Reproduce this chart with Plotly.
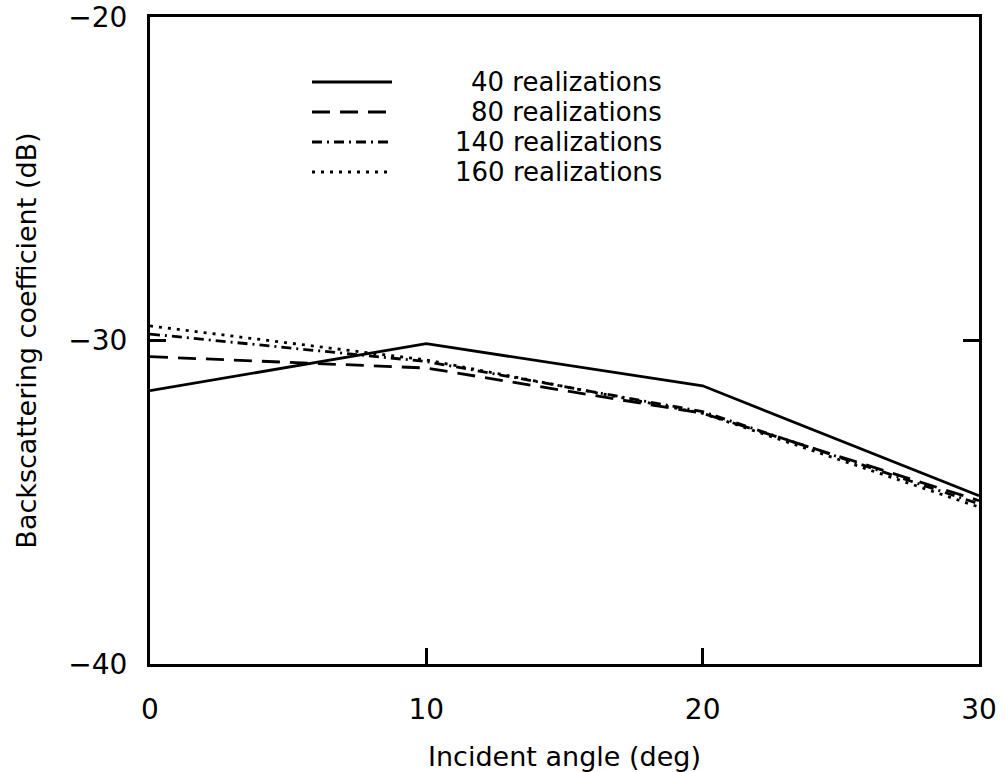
import plotly.graph_objects as go

# Backscattering coefficient vs incident angle for different numbers of realizations
angles = [0, 10, 20, 30]
r40 = [-31.55, -30.1, -31.4, -34.8]
r80 = [-30.5, -30.85, -32.25, -34.95]
r140 = [-29.8, -30.65, -32.2, -35.05]
r160 = [-29.55, -30.6, -32.25, -35.15]

series_names = ["40 realizations", "80 realizations", "140 realizations", "160 realizations"]
series_vals = [r40, r80, r140, r160]
dashes = ["solid", "18px,10px", "10px,5px,2px,5px", "3px,6px"]

x_ticks = [0, 10, 20, 30]
y_ticks = [-40, -30, -20]

FONT = "DejaVu Sans"
W, H = 1005, 772
L, R, T, B = 150, 26, 17, 108

fig = go.Figure()
for name, vals, dash in zip(series_names, series_vals, dashes):
    fig.add_trace(go.Scatter(
        x=angles, y=vals, mode="lines", name=name,
        line=dict(color="black", width=2.8, dash=dash),
        showlegend=False,
    ))

# hand-placed legend block inside the axes
pw, ph = W - L - R, H - T - B
def px_to_paper(px, py):
    return (px - L) / pw, (H - B - py) / ph

rows_y = [82, 112, 142, 172]
shapes = []
annotations = []
for name, dash, py in zip(series_names, dashes, rows_y):
    x0, y0 = px_to_paper(312, py)
    x1, _ = px_to_paper(392, py)
    shapes.append(dict(type="line", xref="paper", yref="paper",
                       x0=x0, x1=x1, y0=y0, y1=y0,
                       line=dict(color="black", width=2.8, dash=dash)))
    tx, ty = px_to_paper(664, py)
    annotations.append(dict(xref="paper", yref="paper", x=tx, y=ty,
                            text=name, showarrow=False, xanchor="right",
                            yanchor="middle",
                            font=dict(family=FONT, size=26, color="black")))

axis_common = dict(
    showgrid=False, zeroline=False, showline=True, linecolor="black",
    linewidth=3, ticks="inside", ticklen=16, tickwidth=2.5, automargin=False,
    tickcolor="black", tickfont=dict(family=FONT, size=28, color="black"),
)

fig.update_layout(
    width=W, height=H,
    margin=dict(l=L, r=R, t=T, b=B),
    paper_bgcolor="white", plot_bgcolor="white",
    shapes=shapes, annotations=annotations,
    xaxis=dict(range=[0, 30], tickvals=x_ticks, ticklabelstandoff=18, mirror=True,
               title=dict(text="Incident angle (deg)", standoff=30,
                          font=dict(family=FONT, size=27, color="black")),
               **axis_common),
    yaxis=dict(range=[-40, -20], tickvals=y_ticks, ticklabelstandoff=14, mirror="ticks",
               title=dict(text="Backscattering coefficient (dB)", standoff=24,
                          font=dict(family=FONT, size=27, color="black")),
               **axis_common),
)

fig.write_html("out.html")
